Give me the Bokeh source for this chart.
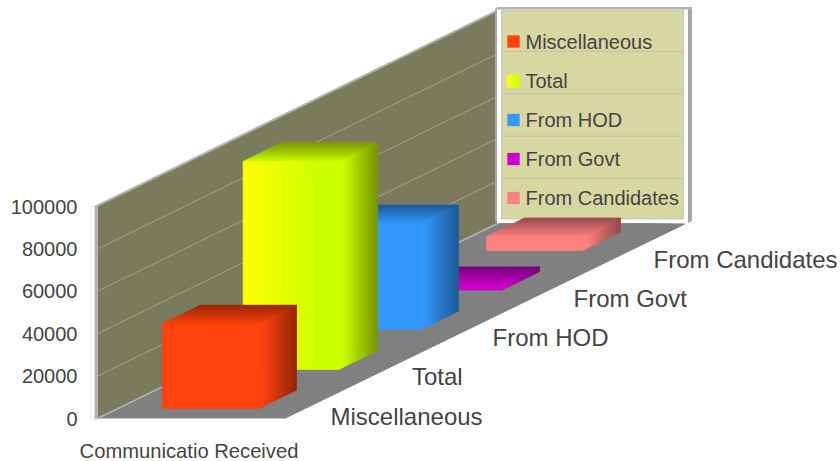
from bokeh.plotting import figure
from bokeh.models import Range1d, FixedTicker, ColumnDataSource, NumeralTickFormatter
from bokeh.embed import file_html
from bokeh.resources import INLINE
from bokeh.core.properties import value as bv

categories = ["Miscellaneous", "Total", "From HOD", "From Govt", "From Candidates"]
values = [40000, 98000, 50000, 2200, 6600]
front_start = ["#ff420e", "#ffff00", "#3399ff", "#cc00cc", "#ff8080"]
front_end = ["#ff420e", "#ccff00", "#3399ff", "#cc00cc", "#ff8080"]
y_ticks = [0, 20000, 40000, 60000, 80000, 100000]
x_title = "Communicatio Received"

FONT = "Liberation Sans"
TXT = "#444444"
PXV = 212 / 100000          # pixels per value unit
DX, DY, LAT = 81, 39.5, 187  # projection of one category step / full lateral width
OX, OY = 97, 418            # pixel of the wall's front bottom corner

def vy(page_y):
    return (OY - page_y) / PXV

def proj(c, l, v):
    """category-depth c, lateral l (0-1), value v -> data coordinates"""
    return OX + DX * c + LAT * l, v + DY * c / PXV

W, H = 840, 461
LEFT = 78
p = figure(width=W, height=H, output_backend="svg", toolbar_location=None,
           x_range=Range1d(LEFT, W), y_range=Range1d(vy(H), vy(0)),
           min_border_left=LEFT, min_border_right=0, min_border_top=0, min_border_bottom=0,
           x_axis_location=None, outline_line_color=None, background_fill_color="white",
           border_fill_color="white")
p.xgrid.visible = False
p.ygrid.visible = False
ax = p.yaxis[0]
ax.ticker = FixedTicker(ticks=y_ticks)
ax.formatter = NumeralTickFormatter(format="0")
ax.axis_line_color = None
ax.major_tick_line_color = None
ax.minor_tick_line_color = None
ax.major_tick_out = 0
ax.major_tick_in = 0
ax.major_label_standoff = 1
ax.major_label_text_font = FONT
ax.major_label_text_font_size = "20px"
ax.major_label_text_color = TXT

def hexrgb(h):
    return [int(h[i:i + 2], 16) for i in (1, 3, 5)]

def mix(a, b, t):
    A, B = hexrgb(a), hexrgb(b)
    return "#%02x%02x%02x" % tuple(round(A[k] + (B[k] - A[k]) * t) for k in range(3))

def shade(c, f):
    return "#%02x%02x%02x" % tuple(round(x * f) for x in hexrgb(c))

def poly(pts, color, line=None, lw=1):
    p.patch([q[0] for q in pts], [q[1] for q in pts], fill_color=color,
            line_color=line or color, line_width=lw)

def strips(a0, a1, b0, b1, colors):
    """Quad with edges a0-a1 (at t=0) and b0-b1 (at t=1), sliced into strips."""
    if len(set(colors)) == 1:          # a solid face needs no slicing
        poly([a0, a1, b1, b0], colors[0], lw=0.3)
        return
    poly([a0, a1, b1, b0], colors[len(colors) // 2], lw=0.3)   # base, hides strip seams
    n = len(colors)
    xs, ys = [], []
    L = lambda s, e, t: (s[0] + (e[0] - s[0]) * t, s[1] + (e[1] - s[1]) * t)
    for k in range(n):
        t0, t1 = k / n, (k + 1) / n
        q = [L(a0, b0, t0), L(a1, b1, t0), L(a1, b1, t1), L(a0, b0, t1)]
        xs.append([z[0] for z in q])
        ys.append([z[1] for z in q])
    src = ColumnDataSource(dict(xs=xs, ys=ys, c=colors))
    p.patches("xs", "ys", source=src, fill_color="c", line_color="c", line_width=0.7)

PY = 1 / PXV   # one pixel, in value units
C_END = len(categories)
VTOP = y_ticks[-1]

# ----- floor
poly([proj(0, 0, 0), proj(0, 1, 0), proj(C_END, 0.975, -3 * PY), proj(C_END, 0, -1 * PY)], "#808080")
# ----- side wall
poly([proj(0, 0, 0), proj(C_END, 0, 0), proj(C_END, 0, VTOP), proj(0, 0, VTOP)], "#7a7a5c")
for t in y_ticks[1:]:
    a, b = proj(0, 0, t), proj(C_END, 0, t)
    p.line([a[0], b[0]], [a[1], b[1]], line_color="#a3a38c", line_width=1)
# wall edges
a, b = proj(0, 0, VTOP), proj(C_END, 0, VTOP)
poly([(a[0] - 3, a[1]), (b[0] - 3, b[1]), (b[0] + 2, b[1] + 2 * PY), (a[0] + 1, a[1] + 2 * PY)], "#b3b3b3")
a0 = proj(0, 0, 0)
poly([(a0[0] - 3, a0[1]), (a[0] - 3, a[1]), (a[0], a[1]), (a0[0], a0[1])], "#b3b3b3")
poly([(a0[0] - 7, a0[1] - 2 * PY), (a[0] - 7, a[1] - PY), (a[0] - 3, a[1] + PY), (a0[0] - 3, a0[1] - 2 * PY)],
     "#ffffff", "#dddddd", 0.6)
c0, c1 = proj(0, 0, 0), proj(0, 1, 0)
p.line([c0[0] - 3, c1[0]], [c0[1], c1[1]], line_color="#c0c0c0", line_width=1)
c2 = proj(C_END, 0, 0)
p.line([c0[0], c2[0]], [c0[1], c2[1]], line_color="#b3b3b3", line_width=1.5)

# ----- back wall (carries the legend)
BL, BR = proj(C_END, 0, 0), proj(C_END, 1, 0)
TL, TR = proj(C_END, 0, VTOP), proj(C_END, 1, VTOP)
poly([(BL[0] - 7, BL[1]), (BL[0] - 5, BL[1]), (TL[0] - 5, TL[1]), (TL[0] - 7, TL[1])], "#a9a9a9")
poly([(BL[0] - 5, BL[1] - 1.5 * PY), (BR[0] - 1, BR[1] - 1.5 * PY), (TR[0] - 1, TR[1]), (TL[0] - 5, TL[1])], "#ffffff")
poly([(BR[0] - 1, BR[1] - 1.5 * PY), (BR[0] + 2, BR[1] + 0.5 * PY), (TR[0] + 2, TR[1] + 1.5 * PY), (TR[0] - 1, TR[1])], "#a6a6a6")
poly([(TL[0] - 7, TL[1]), (TR[0] + 2, TR[1]), (TR[0] + 2, TR[1] + 1.5 * PY), (TL[0] - 5, TL[1] + 1.5 * PY)], "#b3b3b3")
poly([(BL[0] - 1, BL[1] + 2 * PY), (BR[0] - 6, BR[1] + 2 * PY), (TR[0] - 6, TR[1] - 1 * PY), (TL[0] - 1, TL[1] - 1 * PY)],
     "#d7d7a2", "#c4c4c4", 1)
for t in y_ticks[1:-1]:
    a, b = proj(C_END, 0, t), proj(C_END, 1, t)
    p.line([a[0] - 1, b[0] - 6], [a[1], b[1]], line_color="#c2c2ac", line_width=1)

# ----- legend
SW = 12
leg_y = [41, 80.5, 119.5, 158.5, 197.5]
for name, cs, ce, ly in zip(categories, front_start, front_end, leg_y):
    n = 12
    a0_, a1_ = (507, vy(ly - SW / 2)), (507, vy(ly + SW / 2))
    b0_, b1_ = (519, vy(ly - SW / 2)), (519, vy(ly + SW / 2))
    strips(a0_, a1_, b0_, b1_, [mix(cs, ce, (k + .5) / n) for k in range(n)])
    p.text([525], [vy(ly)], text=[name], text_font=bv(FONT), text_font_size="20px",
           text_color=TXT, text_baseline="middle", text_align="left")

# ----- bars, back to front
L0, L1 = 0.24, 0.752
DEPTH = 0.475
N = 24
for i in reversed(range(len(categories))):
    v = values[i]
    cs, ce = front_start[i], front_end[i]
    c_f, c_b = i + 0.245, i + 0.245 + DEPTH
    FLb, FRb = proj(c_f, L0, 0), proj(c_f, L1, 0)
    FLt, FRt = proj(c_f, L0, v), proj(c_f, L1, v)
    BRb, BRt, BLt = proj(c_b, L1, 0), proj(c_b, L1, v), proj(c_b, L0, v)
    strips(FLt, FRt, BLt, BRt, [mix(ce, shade(ce, 0.6), (k + .5) / N) for k in range(N)])
    strips(FRb, FRt, BRb, BRt, [mix(ce, shade(ce, 0.58), max(0, (k + .5) / N - .12) / .88) for k in range(N)])
    strips(FLb, FLt, FRb, FRt, [mix(cs, ce, min(1, (k + .5) / N * 1.25)) for k in range(N)])

# ----- category labels
cat_y = [416, 376, 337, 298, 259]
cat_x = [330, 411.5, 492, 573, 653]
for name, cx, cy in zip(categories, cat_x, cat_y):
    p.text([cx], [vy(cy)], text=[name], text_font=bv(FONT), text_font_size="24px",
           text_color=TXT, text_baseline="middle", text_align="left")

p.text([188.5], [vy(450)], text=[x_title], text_font=bv(FONT), text_font_size="20.2px",
       text_color=TXT, text_baseline="middle", text_align="center")

open("out.html", "w").write(file_html(p, INLINE))
